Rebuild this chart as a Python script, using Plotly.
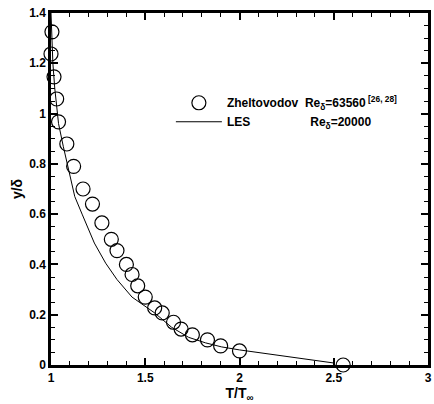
import plotly.graph_objects as go

# Experimental temperature profile (Zheltovodov), T/T_inf vs y/delta
exp_T = [1.005, 1.0, 1.016, 1.03, 1.04, 1.084, 1.12, 1.17, 1.22, 1.27, 1.32, 1.35,
         1.40, 1.43, 1.46, 1.50, 1.55, 1.59, 1.65, 1.69, 1.75, 1.83, 1.90, 2.0, 2.55]
exp_y = [1.325, 1.237, 1.146, 1.058, 0.967, 0.879, 0.79, 0.70, 0.64, 0.565, 0.50, 0.455,
         0.40, 0.36, 0.315, 0.27, 0.227, 0.207, 0.17, 0.143, 0.12, 0.10, 0.076, 0.056, 0.0]

# LES profile
les_T = [1.0, 1.003, 1.01, 1.02, 1.03, 1.04, 1.065, 1.09, 1.126, 1.165, 1.23, 1.29,
         1.35, 1.43, 1.47, 1.55, 1.64, 1.73, 1.82, 1.905, 2.0, 2.5]
les_y = [1.4, 1.3, 1.2, 1.1, 1.02, 0.96, 0.87, 0.79, 0.67, 0.60, 0.485, 0.405,
         0.34, 0.27, 0.25, 0.207, 0.15, 0.11, 0.088, 0.072, 0.06, 0.008]

x_ticks = [1, 1.5, 2, 2.5, 3]
y_ticks = [0, 0.2, 0.4, 0.6, 0.8, 1, 1.2, 1.4]

FONT = "Liberation Sans"
NB = "&nbsp;"

fig = go.Figure()
fig.add_trace(go.Scatter(
    x=exp_T, y=exp_y, mode="markers",
    name="Zheltovodov" + NB * 2 + "Re<sub>δ</sub>=63560<sup> [26, 28]</sup>",
    marker=dict(symbol="circle-open", size=14, color="black", line=dict(width=1.2)),
    cliponaxis=False,
))
fig.add_trace(go.Scatter(
    x=les_T, y=les_y, mode="lines",
    name="LES" + NB * 18 + "Re<sub>δ</sub>=20000",
    line=dict(color="black", width=1),
))

axis_common = dict(
    showgrid=False, zeroline=False,
    showline=True, linecolor="black", linewidth=2.5, mirror="ticks",
    ticks="inside", ticklen=7, tickwidth=2, tickcolor="black",
    tickfont=dict(family=FONT, size=12, color="black", weight="bold"),
)

fig.update_xaxes(
    range=[1, 3], tickvals=x_ticks,
    minor=dict(dtick=0.1, ticks="inside", ticklen=4, tickwidth=1, tickcolor="black"),
    title=dict(text="T/T<sub>∞</sub>", font=dict(family=FONT, size=14, color="black", weight="bold"),
               standoff=2),
    **axis_common,
)
fig.update_yaxes(
    range=[0, 1.4], tickvals=y_ticks,
    minor=dict(dtick=0.05, ticks="inside", ticklen=4, tickwidth=1, tickcolor="black"),
    title=dict(text="y/δ", font=dict(family=FONT, size=14, color="black", weight="bold"),
               standoff=4),
    **axis_common,
)

fig.update_layout(
    width=434, height=404,
    margin=dict(l=51, r=3, t=13, b=39),
    paper_bgcolor="white", plot_bgcolor="white",
    showlegend=True,
    legend=dict(
        x=0.318, y=0.718, xanchor="left", yanchor="middle",
        bgcolor="rgba(0,0,0,0)", borderwidth=0,
        font=dict(family=FONT, size=12, color="black", weight="bold"),
        tracegroupgap=0, itemwidth=46,
    ),
)

fig.write_html("out.html")
